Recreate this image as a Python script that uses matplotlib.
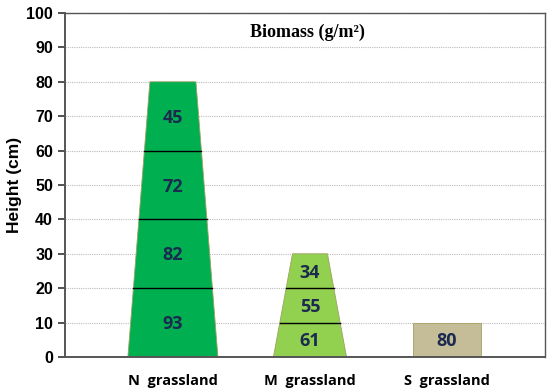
# Height / biomass trapezoid chart for three grassland types
import matplotlib
matplotlib.use("Agg")
import matplotlib.pyplot as plt
from matplotlib.patches import Polygon

# data
sites = ["N  grassland", "M  grassland", "S  grassland"]
layer_heights = [[20, 20, 20, 20], [10, 10, 10], [10]]   # cm per layer, bottom->top
biomass = [[93, 82, 72, 45], [61, 55, 34], [80]]        # g/m2 per layer
colors = ["#00B050", "#92D050", "#C4BD97"]

# shape: width at ground and at canopy top
pos = [0, 1, 2]
w_bottom = [0.657, 0.533, 0.49]
w_top = [0.336, 0.255, 0.49]

fig = plt.figure(figsize=(5.5, 3.88), dpi=100)
ax = fig.add_axes([0.118, 0.080, 0.873, 0.8865])

for i, x in enumerate(pos):
    total = sum(layer_heights[i])
    def half(h):
        return (w_bottom[i] + (w_top[i] - w_bottom[i]) * h / total) / 2
    poly = [(x - half(0), 0), (x + half(0), 0), (x + half(total), total), (x - half(total), total)]
    ax.add_patch(Polygon(poly, closed=True, facecolor=colors[i], edgecolor="#A0A060", lw=0.6, zorder=2))
    y0 = 0
    for h, b in zip(layer_heights[i], biomass[i]):
        ax.text(x, y0 + h / 2 - 0.5, str(b), ha="center", va="center", fontsize=13,
                fontweight="bold", color="#1B2A4E", family="Open Sans", zorder=4)
        y0 += h
        if y0 < total:
            hw = half(y0)
            ax.plot([x - hw, x + hw], [y0, y0], color="black", lw=1.0, zorder=3)

ax.set_xlim(-0.788, 2.715)
ax.set_ylim(0, 100)
ax.set_yticks(range(0, 101, 10))
ax.set_xticks(pos)
ax.set_xticklabels(sites, family="Open Sans", fontweight="bold", fontsize=10.5)
ax.tick_params(axis="x", length=0, pad=12)
ax.tick_params(axis="y", length=5, width=1.2, color="#333333")
for lab in ax.get_yticklabels():
    lab.set_family("Liberation Sans")
    lab.set_fontweight("bold")
    lab.set_fontsize(11.5)
ax.yaxis.grid(True, linestyle=(0, (1, 1)), color="#BBBBBB", lw=0.8, zorder=0)
ax.set_axisbelow(True)
for s in ax.spines.values():
    s.set_color("#555555")
    s.set_linewidth(1.0)
ax.spines["left"].set_linewidth(1.4)
ax.spines["bottom"].set_linewidth(1.4)

ax.set_ylabel("Height (cm)", family="Liberation Sans", fontweight="bold", fontsize=12.5, labelpad=3)
ax.text(0.506, 0.945, "Biomass (g/m²)", transform=ax.transAxes,
        ha="center", va="center", family="Liberation Serif", fontweight="bold", fontsize=13)

fig.savefig("out.png")
